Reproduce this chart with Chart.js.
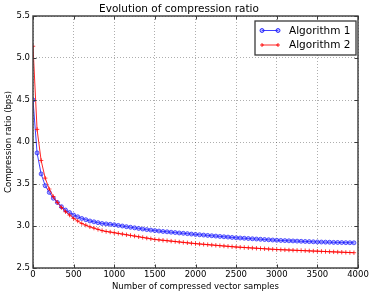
<!DOCTYPE html>
<html>
<head>
<meta charset="utf-8">
<script src="https://cdn.jsdelivr.net/npm/chart.js@4/dist/chart.umd.min.js"></script>
<style>
  html, body { margin: 0; padding: 0; background: #fff; }
  #wrap { width: 374px; height: 297px; }
</style>
</head>
<body>
<div id="wrap"><canvas id="c" width="374" height="297"></canvas></div>
<script>
const samples = [
  0, 50, 100, 150, 200, 250, 300, 350, 400, 450,
  500, 550, 600, 650, 700, 750, 800, 850, 900, 950,
  1000, 1050, 1100, 1150, 1200, 1250, 1300, 1350, 1400, 1450,
  1500, 1550, 1600, 1650, 1700, 1750, 1800, 1850, 1900, 1950,
  2000, 2050, 2100, 2150, 2200, 2250, 2300, 2350, 2400, 2450,
  2500, 2550, 2600, 2650, 2700, 2750, 2800, 2850, 2900, 2950,
  3000, 3050, 3100, 3150, 3200, 3250, 3300, 3350, 3400, 3450,
  3500, 3550, 3600, 3650, 3700, 3750, 3800, 3850, 3900, 3950
];
const algorithm1 = [
  4.50, 3.87, 3.62, 3.48, 3.40, 3.33, 3.28, 3.23, 3.19, 3.16,
  3.13, 3.11, 3.09, 3.075, 3.06, 3.05, 3.04, 3.03, 3.025, 3.02,
  3.015, 3.007, 3.000, 2.992, 2.985, 2.978, 2.971, 2.964, 2.957, 2.951,
  2.945, 2.940, 2.935, 2.931, 2.926, 2.922, 2.917, 2.913, 2.909, 2.904,
  2.900, 2.896, 2.892, 2.888, 2.884, 2.880, 2.876, 2.872, 2.868, 2.864,
  2.860, 2.857, 2.854, 2.851, 2.848, 2.845, 2.842, 2.839, 2.836, 2.833,
  2.830, 2.828, 2.826, 2.824, 2.822, 2.820, 2.818, 2.816, 2.814, 2.812,
  2.810, 2.809, 2.808, 2.807, 2.805, 2.804, 2.803, 2.802, 2.801, 2.800
];
const algorithm2 = [
  5.14, 4.15, 3.78, 3.57, 3.44, 3.35, 3.28, 3.22, 3.17, 3.13,
  3.09, 3.06, 3.03, 3.01, 2.99, 2.975, 2.96, 2.945, 2.935, 2.928,
  2.920, 2.912, 2.904, 2.896, 2.888, 2.880, 2.872, 2.864, 2.856, 2.848,
  2.840, 2.835, 2.830, 2.825, 2.820, 2.815, 2.810, 2.805, 2.800, 2.795,
  2.790, 2.786, 2.782, 2.778, 2.774, 2.770, 2.766, 2.762, 2.758, 2.754,
  2.750, 2.747, 2.744, 2.741, 2.738, 2.735, 2.732, 2.729, 2.726, 2.723,
  2.720, 2.718, 2.716, 2.714, 2.712, 2.710, 2.708, 2.706, 2.704, 2.702,
  2.700, 2.698, 2.696, 2.694, 2.692, 2.690, 2.688, 2.686, 2.684, 2.682
];
const seriesLabels = ['Algorithm 1', 'Algorithm 2'];
const xTicks = [0, 500, 1000, 1500, 2000, 2500, 3000, 3500, 4000];
const yTicks = [2.5, 3.0, 3.5, 4.0, 4.5, 5.0, 5.5];
const chartTitle = 'Evolution of compression ratio';
const xTitle = 'Number of compressed vector samples';
const yTitle = 'Compression ratio (bps)';

const FONT = "'DejaVu Sans', sans-serif";
const BLUE = 'rgba(0,0,255,0.75)';
const BLUE_FILL = 'rgba(90,90,255,0.45)';
const RED = 'rgba(255,0,0,0.85)';
const FRAME = '#3a3a3a';

const toPts = (ys) => samples.map((x, i) => ({ x: x, y: ys[i] }));

const framePlugin = {
  id: 'frame',
  afterDatasetsDraw(chart) {
    const { ctx, chartArea: a, scales } = chart;
    ctx.save();
    // inward ticks
    ctx.strokeStyle = FRAME;
    ctx.lineWidth = 1;
    const L = 3.5;
    xTicks.forEach(v => {
      const px = Math.round(scales.x.getPixelForValue(v)) + 0.5;
      ctx.beginPath();
      ctx.moveTo(px, a.bottom); ctx.lineTo(px, a.bottom - L);
      ctx.moveTo(px, a.top); ctx.lineTo(px, a.top + L);
      ctx.stroke();
    });
    yTicks.forEach(v => {
      const py = Math.round(scales.y.getPixelForValue(v)) + 0.5;
      ctx.beginPath();
      ctx.moveTo(a.left, py); ctx.lineTo(a.left + L, py);
      ctx.moveTo(a.right, py); ctx.lineTo(a.right - L, py);
      ctx.stroke();
    });
    // frame
    ctx.lineWidth = 1.4;
    ctx.strokeRect(a.left, a.top, a.right - a.left, a.bottom - a.top);

    // legend box
    const bx = a.right - 103, by = a.top + 5, bw = 101, bh = 34;
    ctx.fillStyle = '#fff';
    ctx.fillRect(bx, by, bw, bh);
    ctx.lineWidth = 1.3;
    ctx.strokeStyle = FRAME;
    ctx.strokeRect(bx, by, bw, bh);
    const ds = chart.data.datasets;
    ctx.font = '10.5px ' + FONT;
    ctx.textBaseline = 'middle';
    ctx.textAlign = 'left';
    const rows = [by + 9.5, by + 24];
    ds.forEach((d, i) => {
      const y = rows[i];
      const x1 = bx + 7, x2 = bx + 23;
      ctx.strokeStyle = d.borderColor;
      ctx.lineWidth = 1;
      ctx.beginPath(); ctx.moveTo(x1, y); ctx.lineTo(x2, y); ctx.stroke();
      [x1, x2].forEach(px => {
        if (d.pointStyle === 'circle') {
          ctx.beginPath(); ctx.arc(px, y, 2, 0, Math.PI * 2);
          ctx.fillStyle = d.pointBackgroundColor; ctx.fill();
          ctx.strokeStyle = d.borderColor; ctx.stroke();
        } else {
          ctx.beginPath();
          ctx.moveTo(px - 2, y); ctx.lineTo(px + 2, y);
          ctx.moveTo(px, y - 2); ctx.lineTo(px, y + 2);
          ctx.strokeStyle = d.borderColor; ctx.stroke();
        }
      });
      ctx.fillStyle = '#000';
      ctx.fillText(d.label, bx + 34, y + 0.5);
    });
    ctx.restore();
  }
};

new Chart(document.getElementById('c'), {
  type: 'line',
  data: {
    datasets: [
      {
        label: seriesLabels[0],
        data: toPts(algorithm1),
        borderColor: BLUE,
        borderWidth: 1,
        pointStyle: 'circle',
        pointRadius: 2,
        pointBorderWidth: 0.8,
        pointBackgroundColor: BLUE_FILL,
        pointBorderColor: BLUE,
        tension: 0,
        order: 2
      },
      {
        label: seriesLabels[1],
        data: toPts(algorithm2),
        borderColor: RED,
        borderWidth: 1,
        pointStyle: 'cross',
        pointRadius: 2.2,
        pointBorderWidth: 0.9,
        pointBackgroundColor: RED,
        pointBorderColor: RED,
        tension: 0,
        order: 1
      }
    ]
  },
  options: {
    responsive: false,
    animation: false,
    devicePixelRatio: 1,
    layout: { padding: { left: 0, right: 16, top: 0, bottom: 0 } },
    plugins: {
      legend: { display: false },
      tooltip: { enabled: false },
      title: {
        display: true,
        text: chartTitle,
        color: '#000',
        font: { family: FONT, size: 10.5, weight: 'normal', lineHeight: 1.2 },
        padding: { top: 3, bottom: 0.4 }
      }
    },
    scales: {
      x: {
        type: 'linear',
        min: 0, max: 4000,
        afterBuildTicks(s) { s.ticks = xTicks.map(v => ({ value: v })); },
        afterFit(s) { s.height = 29; },
        ticks: {
          color: '#000',
          font: { family: FONT, size: 8.5 },
          padding: 2,
          maxRotation: 0,
          callback: (v) => String(v)
        },
        grid: { color: 'rgba(0,0,0,0.4)', lineWidth: 0.8, drawTicks: false },
        border: { display: false, dash: [1, 2] },
        title: {
          display: true, text: xTitle, color: '#000',
          font: { family: FONT, size: 8.5, lineHeight: 1.2 },
          padding: { top: 0, bottom: 5 }
        }
      },
      y: {
        type: 'linear',
        min: 2.5, max: 5.5,
        afterBuildTicks(s) { s.ticks = yTicks.map(v => ({ value: v })); },
        afterFit(s) { s.width = 33; },
        ticks: {
          color: '#000',
          font: { family: FONT, size: 8.5 },
          padding: 3,
          callback: (v) => Number(v).toFixed(1)
        },
        grid: { color: 'rgba(0,0,0,0.4)', lineWidth: 0.8, drawTicks: false },
        border: { display: false, dash: [1, 2] },
        title: {
          display: true, text: yTitle, color: '#000',
          font: { family: FONT, size: 8.5, lineHeight: 1.2 },
          padding: { top: 4, bottom: 0 }
        }
      }
    }
  },
  plugins: [framePlugin]
});
</script>
</body>
</html>
